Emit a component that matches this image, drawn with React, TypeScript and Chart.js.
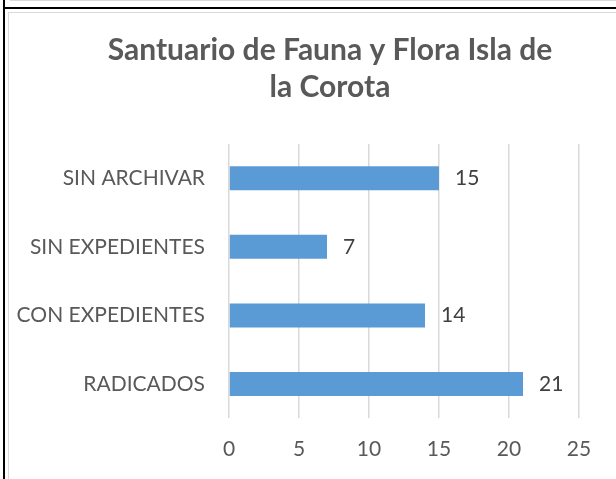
import React, { useEffect, useRef } from "react";
import { Chart, registerables } from "chart.js";

Chart.register(...registerables);

const titleLines = ["Santuario de Fauna y Flora Isla de", "la Corota"];
const categories = ["SIN ARCHIVAR", "SIN EXPEDIENTES", "CON EXPEDIENTES", "RADICADOS"];
const values = [15, 7, 14, 21];
const xMin = 0;
const xMax = 25;
const xStep = 5;

const FONT = "Lato, 'Open Sans', sans-serif";

const dataLabelPlugin = {
  id: "dataLabels",
  afterDatasetsDraw(chart: any) {
    const ctx = chart.ctx;
    const meta = chart.getDatasetMeta(0);
    ctx.save();
    ctx.font = `21px ${FONT}`;
    ctx.fillStyle = "#404040";
    ctx.textAlign = "left";
    ctx.textBaseline = "middle";
    meta.data.forEach((bar: any, i: number) => {
      ctx.fillText(String(values[i]), bar.x + 16, bar.y);
    });
    ctx.restore();
  },
};

// Centre the title over the whole canvas rather than the padded area.
const titleCenterPlugin = {
  id: "titleCenter",
  afterLayout(chart: any) {
    const tb = chart.titleBlock;
    if (tb) {
      tb.left = 0;
      tb.right = chart.width;
      tb.width = chart.width;
    }
  },
};

export default function App() {
  const ref = useRef<HTMLCanvasElement>(null);

  useEffect(() => {
    if (!ref.current) return;
    const chart = new Chart(ref.current, {
      type: "bar",
      data: {
        labels: categories,
        datasets: [
          {
            data: values,
            backgroundColor: "#5B9BD5",
            borderWidth: 0,
            categoryPercentage: 1,
            barPercentage: 0.35,
          },
        ],
      },
      options: {
        indexAxis: "y",
        animation: false,
        responsive: false,
        maintainAspectRatio: false,
        layout: { padding: { left: 0, right: 72, top: 0, bottom: 0 } },
        plugins: {
          legend: { display: false },
          tooltip: { enabled: false },
          title: {
            display: true,
            text: titleLines,
            color: "#595959",
            font: { family: FONT, size: 30, weight: "bold", lineHeight: "37px" } as any,
            padding: { top: 18.5, bottom: 38.5 },
          },
        },
        scales: {
          x: {
            min: xMin,
            max: xMax,
            ticks: {
              stepSize: xStep,
              color: "#595959",
              font: { family: FONT, size: 21 },
              padding: 18,
            },
            grid: { color: "#D9D9D9", lineWidth: 1.5, drawTicks: false },
            border: { display: false },
            afterFit(scale: any) {
              scale.height = 60.7;
            },
          },
          y: {
            ticks: {
              color: "#595959",
              font: { family: FONT, size: 21 },
              padding: 24,
            },
            grid: { display: false, drawTicks: false },
            border: { display: false },
            afterFit(scale: any) {
              scale.width = 220;
            },
          },
        },
      },
      plugins: [dataLabelPlugin, titleCenterPlugin],
    });
    return () => chart.destroy();
  }, []);

  return (
    <div
      style={{
        position: "absolute",
        left: 0,
        top: 0,
        width: 616,
        height: 479,
        overflow: "hidden",
        background: "#fff",
      }}
    >
      <div style={{ position: "absolute", left: 10, top: 0, width: 700, height: 1, background: "#D9D9D9" }} />
      <div style={{ position: "absolute", left: 3, top: 0, width: 2, height: 479, background: "#000" }} />
      <div style={{ position: "absolute", left: 3, top: 7, width: 700, height: 2, background: "#000" }} />
      <div
        style={{
          position: "absolute",
          left: 8,
          top: 12,
          width: 700,
          height: 500,
          borderLeft: "1px solid #D9D9D9",
          borderTop: "1px solid #D9D9D9",
        }}
      >
        <canvas ref={ref} width={642} height={466} style={{ display: "block", width: 642, height: 466 }} />
      </div>
    </div>
  );
}
